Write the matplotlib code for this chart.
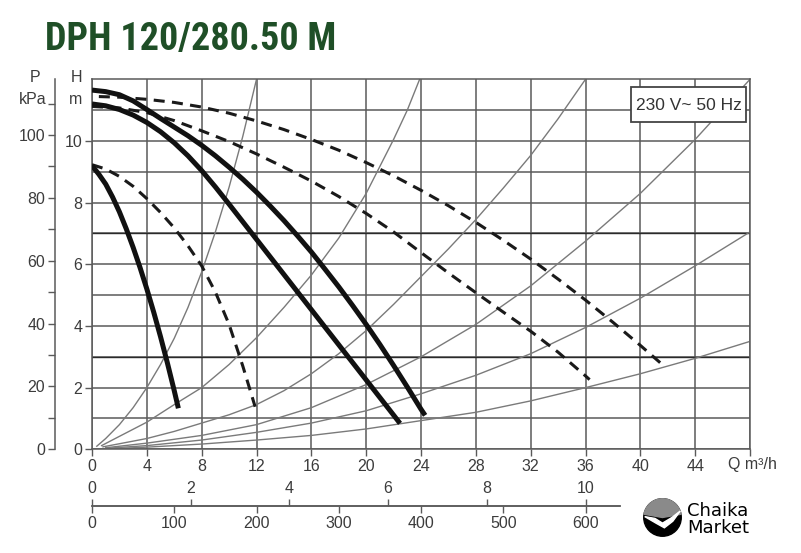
import matplotlib
matplotlib.use("Agg")
import matplotlib.pyplot as plt
from matplotlib import font_manager
from matplotlib.patches import Rectangle, Circle, Wedge, Polygon

# ---- data (Q in m3/h, H in m) ----
# pump curves, three speeds (thick solid)
Q_PUMP_MAX = [0, 1, 2, 3, 4, 5, 6, 7, 8, 9, 10, 11, 12, 13, 14, 15, 16, 17, 18, 19, 20, 21, 22, 23, 24, 24.3]
H_PUMP_MAX = [11.65, 11.6, 11.5, 11.3, 11.02, 10.73, 10.45, 10.17, 9.86, 9.52, 9.15, 8.76, 8.34,
              7.89, 7.42, 6.92, 6.4, 5.84, 5.27, 4.67, 4.05, 3.4, 2.72, 2.02, 1.3, 1.1]
Q_PUMP_MID = [0, 1, 2, 3, 4, 5, 6, 7, 8, 9, 10, 11, 12, 13, 14, 15, 16, 17, 18, 19, 20, 21, 22, 22.47]
H_PUMP_MID = [11.2, 11.14, 11.02, 10.84, 10.6, 10.3, 9.94, 9.52, 9.04, 8.51, 7.95, 7.38, 6.81,
              6.24, 5.67, 5.1, 4.53, 3.96, 3.39, 2.82, 2.25, 1.68, 1.11, 0.84]
Q_PUMP_MIN = [0, 0.5, 1, 1.5, 2, 2.5, 3, 3.5, 4, 4.5, 5, 5.5, 6, 6.3]
H_PUMP_MIN = [9.2, 8.92, 8.6, 8.18, 7.7, 7.15, 6.55, 5.9, 5.2, 4.45, 3.65, 2.8, 1.9, 1.33]

# dashed curves
Q_DASH_MAX = [0.5, 2, 4, 6, 8, 10, 12, 14, 16, 18, 20, 22, 24, 26, 28, 30, 32, 34, 36, 38, 40, 41.6]
H_DASH_MAX = [11.44, 11.42, 11.35, 11.25, 11.1, 10.9, 10.65, 10.37, 10.05, 9.7, 9.3, 8.87, 8.4,
              7.9, 7.36, 6.78, 6.17, 5.52, 4.84, 4.12, 3.37, 2.75]
Q_DASH_MID = [0, 2, 4, 6, 8, 10, 12, 14, 16, 18, 20, 22, 24, 26, 28, 30, 32, 34, 36, 36.3]
H_DASH_MID = [11.12, 11.07, 10.92, 10.66, 10.33, 9.98, 9.58, 9.15, 8.7, 8.2, 7.65, 7.05, 6.38,
              5.72, 5.08, 4.45, 3.83, 3.15, 2.38, 2.26]
Q_DASH_MIN = [0, 1, 2, 3, 4, 5, 6, 7, 8, 9, 10, 11, 11.9]
H_DASH_MIN = [9.23, 9.09, 8.85, 8.53, 8.13, 7.68, 7.18, 6.6, 5.95, 5.1, 4.05, 2.7, 1.38]

# system curves (thin grey)
SYS_CURVES = {
    "A": ([0.35, 1, 2, 3, 4, 5, 6, 7, 8, 9, 10, 11, 12],
          [0.1, 0.35, 0.8, 1.35, 2.0, 2.75, 3.6, 4.6, 5.75, 7.05, 8.5, 10.15, 12.0]),
    "B": ([0.7, 2, 4, 6, 8, 10, 12, 14, 16, 18, 20, 22, 23, 23.9],
          [0.12, 0.42, 0.88, 1.45, 2.0, 2.75, 3.62, 4.6, 5.65, 6.85, 8.3, 10.05, 11.0, 12.0]),
    "C": ([0.8, 2, 4, 6, 8, 10, 12, 14, 16, 18, 20, 22, 24, 26, 28, 30, 32, 34, 36],
          [0.08, 0.18, 0.35, 0.58, 0.85, 1.12, 1.45, 1.9, 2.45, 3.1, 3.85, 4.7, 5.6, 6.5,
           7.45, 8.47, 9.53, 10.72, 12.0]),
    "D": ([1, 4, 8, 12, 16, 20, 24, 28, 32, 36, 40, 44, 48],
          [0.05, 0.2, 0.45, 0.8, 1.35, 2.1, 3.0, 4.05, 5.3, 6.75, 8.3, 10.05, 12.0]),
    "E": ([1, 4, 8, 12, 16, 20, 24, 28, 32, 36, 40, 44, 48],
          [0.03, 0.12, 0.3, 0.55, 0.85, 1.25, 1.8, 2.4, 3.1, 3.95, 4.9, 5.95, 7.05]),
    "F": ([1.5, 4, 8, 12, 16, 20, 24, 28, 32, 36, 40, 44, 48],
          [0.02, 0.07, 0.17, 0.3, 0.45, 0.66, 0.93, 1.2, 1.57, 2.0, 2.45, 2.95, 3.5]),
}

Q_TICKS = list(range(0, 49, 4))
Q_TICK_LABELS = [str(q) for q in range(0, 45, 4)] + [""]
H_TICKS = [0, 2, 4, 6, 8, 10]
P_TICKS = [0, 20, 40, 60, 80, 100]
P_MINOR = [10, 30, 50, 70, 90, 110]
LS_TICKS = [0, 2, 4, 6, 8, 10]
LMIN_TICKS = [0, 100, 200, 300, 400, 500, 600]

TITLE = "DPH 120/280.50 M"
SUPPLY = "230 V~ 50 Hz"

W, H = 801, 553
GRID_C = "#5a5a5a"
TEXT_C = "#3c3c3c"


def fx(px):
    return px / W


def fy(py):
    return 1 - py / H


def pick_title_font():
    names = {f.name for f in font_manager.fontManager.ttflist}
    for fam in ["Liberation Sans Narrow", "Roboto Condensed", "Open Sans Condensed"]:
        if fam in names:
            return fam, "normal"
    return "DejaVu Sans", "condensed"


def draw_logo(fig):
    lax = fig.add_axes([fx(640), fy(540), fx(45), 45 / H])
    lax.set_xlim(-1.2, 1.2)
    lax.set_ylim(-1.2, 1.2)
    lax.set_aspect("equal")
    lax.axis("off")
    lax.add_patch(Circle((0, 0), 1.0, color="black"))
    lax.add_patch(Wedge((0, 0), 1.0, 10, 170, color="#8a8a8a"))
    bird = [(-0.95, 0.05), (-0.4, -0.05), (0.0, -0.3), (0.5, 0.0), (0.95, 0.35),
            (0.55, -0.2), (0.1, -0.55), (-0.35, -0.3)]
    lax.add_patch(Polygon(bird, closed=True, color="white"))
    fig.text(fx(687), fy(511), "Chaika", fontsize=13, color="black",
             family="DejaVu Sans", va="center", ha="left")
    fig.text(fx(687), fy(528), "Market", fontsize=13, color="black",
             family="DejaVu Sans", va="center", ha="left")


def main():
    plt.rcParams["font.family"] = ["Liberation Sans", "DejaVu Sans"]
    fig = plt.figure(figsize=(W / 100, H / 100), dpi=100)
    fig.patch.set_facecolor("white")

    # main Q-H axes
    ax = fig.add_axes([fx(92), fy(449.3), fx(750 - 92), (449.3 - 79.3) / H])
    ax.set_xlim(0, 48)
    ax.set_ylim(0, 12)
    ax.set_xticks(Q_TICKS)
    ax.set_xticklabels(Q_TICK_LABELS)
    ax.set_yticks(H_TICKS)
    ax.set_yticks(range(1, 12), minor=True)
    ax.grid(True, which="both", color=GRID_C, lw=1.1)
    for h in (3, 7):
        ax.axhline(h, color="#2a2a2a", lw=1.0, zorder=1)
    ax.tick_params(which="major", direction="out", length=5, width=1.0, color=GRID_C,
                   labelsize=11.5, labelcolor=TEXT_C, pad=2)
    ax.tick_params(which="minor", length=0)
    for s in ax.spines.values():
        s.set_color(GRID_C)
        s.set_linewidth(1.1)
    ax.set_axisbelow(True)

    for name, (qs, hs) in SYS_CURVES.items():
        ax.plot(qs, hs, color="#7a7a7a", lw=1.0, zorder=2)

    dash_kw = dict(color="#1a1a1a", lw=2.2, dashes=(3.6, 2.4), zorder=3)
    ax.plot(Q_DASH_MAX, H_DASH_MAX, **dash_kw)
    ax.plot(Q_DASH_MID, H_DASH_MID, **dash_kw)
    ax.plot(Q_DASH_MIN, H_DASH_MIN, **dash_kw)

    thick_kw = dict(color="#111111", lw=3.6, solid_capstyle="butt",
                    solid_joinstyle="round", zorder=4)
    ax.plot(Q_PUMP_MAX, H_PUMP_MAX, **thick_kw)
    ax.plot(Q_PUMP_MID, H_PUMP_MID, **thick_kw)
    ax.plot(Q_PUMP_MIN, H_PUMP_MIN, **thick_kw)

    # pressure axis in kPa, offset to the left
    axp = ax.twinx()
    axp.set_ylim(0, 12 * 9.81)
    axp.yaxis.tick_left()
    for side in ("right", "top", "bottom"):
        axp.spines[side].set_visible(False)
    axp.spines["left"].set_position(("outward", (92 - 55) * 0.72))
    axp.spines["left"].set_color(GRID_C)
    axp.spines["left"].set_linewidth(1.1)
    axp.set_yticks(P_TICKS)
    axp.set_yticks(P_MINOR, minor=True)
    axp.tick_params(which="both", direction="out", length=5, width=1.0, color=GRID_C,
                    labelsize=11.5, labelcolor=TEXT_C, pad=2)

    # axis captions
    cap = dict(fontsize=11.5, color=TEXT_C, ha="center", va="center")
    fig.text(fx(35), fy(78), "P", **cap)
    fig.text(fx(33), fy(100), "kPa", **cap)
    fig.text(fx(76), fy(78), "H", **cap)
    fig.text(fx(76), fy(100), "m", **cap)
    fig.text(fx(728), fy(464), "Q m\u00b3/h", fontsize=11.5, color=TEXT_C,
             ha="left", va="center")

    # second flow scale: l/s above, l/min below
    axq = fig.add_axes([fx(92), fy(506), fx(620 - 92), 0.0001])
    axq.set_xlim(0, (620 - 92) / (658 / 48) / 3.6)
    axq.set_yticks([])
    for side in ("left", "right", "top"):
        axq.spines[side].set_visible(False)
    axq.spines["bottom"].set_color(GRID_C)
    axq.spines["bottom"].set_linewidth(1.1)
    axq.patch.set_alpha(0)
    axq.set_xticks(LS_TICKS)
    axq.tick_params(axis="x", bottom=False, top=True, labelbottom=False, labeltop=True,
                    direction="out", length=5, width=1.0, color=GRID_C,
                    labelsize=11.5, labelcolor=TEXT_C, pad=2)
    sec = axq.secondary_xaxis("bottom", functions=(lambda x: x * 60, lambda x: x / 60))
    sec.set_xticks(LMIN_TICKS)
    sec.spines["bottom"].set_color(GRID_C)
    sec.spines["bottom"].set_linewidth(1.1)
    sec.tick_params(axis="x", direction="out", length=5, width=1.0, color=GRID_C,
                    labelsize=11.5, labelcolor=TEXT_C, pad=2)

    # supply box
    fig.add_artist(Rectangle((fx(631), fy(122)), fx(115), 35 / H, transform=fig.transFigure,
                             fc="white", ec="#444444", lw=1.3, zorder=5))
    fig.text(fx(688.5), fy(105), SUPPLY, fontsize=12.5, color="#333333",
             ha="center", va="center", zorder=6)

    # title, squeezed to the reference width
    fam, stretch = pick_title_font()
    t = fig.text(fx(45), fy(39), TITLE, fontsize=28, fontweight="bold", family=fam,
                 fontstretch=stretch, color="#1f4f27", ha="left", va="center")
    r = fig.canvas.get_renderer()
    wpx = t.get_window_extent(renderer=r).width
    if wpx > 292:
        t.set_fontsize(28 * 292 / wpx)

    draw_logo(fig)

    fig.savefig("out.png", dpi=100, facecolor="white")
    plt.close(fig)


if __name__ == "__main__":
    main()
